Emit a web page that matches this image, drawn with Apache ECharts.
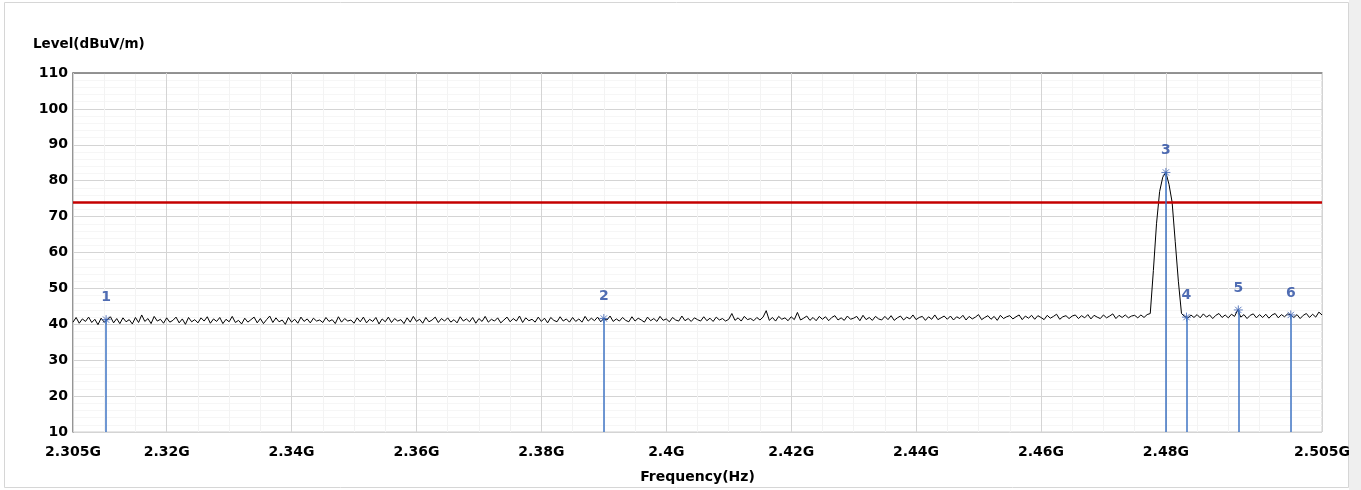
<!DOCTYPE html>
<html>
<head>
<meta charset="utf-8">
<script src="https://cdn.jsdelivr.net/npm/echarts@6/dist/echarts.min.js"></script>
<style>
    html, body { margin: 0; padding: 0; background: #fff; }
    #chart { width: 1361px; height: 490px; }
</style>
</head>
<body>
<div id="chart"></div>
<script>
    // sweep: 2.305G .. 2.505G, 401 points
    const sweepStart = 2.305
    const sweepStep = 0.0005

    const levels = [
        40.6, 41.9, 40.3, 41.5, 40.8, 42.0, 40.5, 41.4, 39.9, 41.7, 40.6, 41.2, 42.1, 40.4, 41.6, 40.2, 41.8, 40.7, 41.3, 40.1,
        41.9, 40.5, 42.6, 40.8, 41.6, 40.2, 42.2, 40.9, 41.4, 40.3, 41.8, 40.6, 41.1, 42.0, 40.4, 41.5, 40.0, 41.9, 40.7, 41.3,
        40.4, 41.8, 40.9, 42.1, 40.3, 41.5, 40.8, 41.9, 40.2, 41.4, 40.7, 42.2, 40.5, 41.1, 40.1, 41.7, 40.6, 41.3, 42.0, 40.4,
        41.6, 40.2, 41.3, 42.3, 40.5, 41.8, 40.7, 41.2, 40.0, 41.9, 40.6, 41.4, 40.3, 42.0, 40.8, 41.5, 40.4, 41.7, 40.9, 41.2,
        40.5, 41.9, 40.8, 41.3, 40.2, 42.1, 40.6, 41.6, 40.9, 41.2, 40.3, 41.8, 40.7, 42.0, 40.4, 41.4, 40.8, 41.9, 40.1, 41.5,
        40.7, 42.0, 40.5, 41.6, 40.9, 41.3, 40.2, 41.8, 40.6, 42.2, 40.8, 41.4, 40.3, 41.9, 40.7, 41.2, 42.0, 40.5, 41.6, 40.9,
        41.8, 40.6, 41.3, 40.4, 42.1, 40.9, 41.5, 40.7, 41.9, 40.3, 41.6, 40.8, 42.2, 40.6, 41.4, 40.9, 41.8, 40.4, 41.2, 42.0,
        40.7, 41.6, 40.9, 42.3, 40.5, 41.8, 41.0, 41.4, 40.6, 42.0, 40.8, 41.7, 40.4, 41.9, 41.1, 40.7, 42.1, 40.9, 41.5, 40.6,
        41.9, 40.8, 41.5, 40.6, 42.2, 40.9, 41.7, 41.0, 42.0, 40.7, 41.6, 41.2, 42.3, 40.8, 41.5, 40.9, 41.9, 41.1, 40.7, 42.1,
        40.9, 41.7, 41.2, 40.6, 42.0, 41.0, 41.6, 40.8, 42.2, 41.1, 41.5, 40.7, 41.9, 41.2, 40.9, 42.3, 41.0, 41.6, 40.8, 41.8,
        41.3, 40.9, 42.1, 41.0, 41.7, 40.8, 42.0, 41.2, 41.6, 40.9, 41.4, 43.0, 41.1, 41.8, 40.9, 42.2, 41.3, 41.6, 41.0, 41.9,
        41.2, 42.0, 43.8, 41.1, 41.9, 40.9, 42.2, 41.4, 41.8, 41.0, 42.1, 41.3, 43.3, 41.2, 41.7, 42.3, 41.1, 41.9, 41.0, 42.2,
        41.4, 42.1, 41.0, 41.9, 42.4, 41.2, 41.8, 41.1, 42.3, 41.4, 41.7, 42.2, 41.0, 42.5, 41.3, 41.9, 41.1, 42.2, 41.5, 41.2,
        42.2, 41.3, 42.4, 41.1, 41.8, 42.3, 41.2, 42.0, 41.5, 42.6, 41.3, 41.9, 42.2, 41.1, 42.1, 41.4, 42.6, 41.3, 41.8, 42.3,
        41.4, 42.3, 41.2, 42.1, 41.6, 42.5, 41.2, 42.2, 41.5, 42.0, 42.7, 41.3, 41.9, 42.4, 41.4, 42.2, 41.1, 42.5, 41.6, 42.1,
        42.4, 41.5, 42.1, 42.6, 41.3, 42.3, 41.7, 42.5, 41.4, 42.4, 41.9, 41.3, 42.5, 41.7, 42.2, 42.8, 41.4, 42.1, 42.4, 41.6,
        42.3, 42.6, 41.6, 42.4, 41.8, 42.7, 41.5, 42.5, 42.0, 41.6, 42.6, 41.8, 42.3, 42.9, 41.6, 42.5, 41.9, 42.6, 41.8, 42.3,
        42.5, 41.8, 42.6, 41.9, 42.7, 43.0, 55.0, 68.0, 77.0, 81.0, 82.3, 79.0, 74.0, 63.0, 52.0, 43.0, 42.2, 41.7, 42.6, 41.9,
        42.7, 41.8, 42.9, 42.0, 42.6, 41.6, 42.5, 43.0, 41.9, 42.6, 41.8, 42.8, 42.2, 44.0, 42.0, 42.7, 41.6, 42.5, 42.9, 41.8,
        42.7, 41.9, 42.8, 41.7, 42.6, 43.0, 41.8, 42.7, 42.1, 42.9, 42.6, 41.9, 42.7, 41.6, 42.5, 43.0, 41.9, 42.8, 42.0, 43.4,
        42.6
    ]

    const limitLevel = 74

    const markerNames = ['1', '2', '3', '4', '5', '6']
    const markerFreqs = [2.3103, 2.39, 2.48, 2.4833, 2.4916, 2.5]
    const markerLevels = [41.3, 41.6, 82.3, 42.0, 44.0, 42.6]

    const freqTicks = [2.305, 2.32, 2.34, 2.36, 2.38, 2.4, 2.42, 2.44, 2.46, 2.48, 2.505]

    const font = 'DejaVu Sans, Arial, sans-serif'
    const markerBlue = '#2448a0'

    let chart = echarts.init(document.getElementById('chart'))

    let trace = levels.map((v, i) => [sweepStart + i * sweepStep, v])

    chart.setOption({
        animation: false,
        backgroundColor: '#fff',
        grid: { left: 73, right: 39, top: 73, bottom: 58, show: true, borderColor: '#cfcfcf', borderWidth: 1 },
        graphic: [
            { type: 'rect', shape: { x: 4.5, y: 2.5, width: 1344, height: 485 }, style: { fill: 'none', stroke: '#d6d6d6', lineWidth: 1 }, z: -1 },
            { type: 'rect', shape: { x: 1349, y: 0, width: 12, height: 490 }, style: { fill: '#efefef' }, z: -1 },
            { type: 'text', left: 33, top: 37, style: { text: 'Level(dBuV/m)', font: 'bold 13.5px ' + font, fill: '#000' } }
        ],
        xAxis: [
            {
                type: 'value', min: 2.305, max: 2.505, z: 2,
                name: 'Frequency(Hz)', nameLocation: 'middle', nameGap: 38,
                nameTextStyle: { fontFamily: font, fontWeight: 'bold', fontSize: 14, color: '#000' },
                axisLine: { show: false },
                axisTick: { show: false, customValues: freqTicks },
                axisLabel: { customValues: freqTicks, formatter: v => v + 'G', margin: 13, fontFamily: font, fontWeight: 'bold', fontSize: 14, color: '#000' },
                splitLine: { show: true, lineStyle: { color: '#d4d4d4', width: 1 } }
            },
            {
                type: 'value', min: 2.305, max: 2.505, interval: 0.005, position: 'top', z: 1,
                axisLine: { show: true, lineStyle: { color: '#7a7a7a', width: 1.5 } },
                axisTick: { show: false },
                axisLabel: { show: false },
                splitLine: { show: true, lineStyle: { color: '#f3f3f3', width: 1 } }
            }
        ],
        yAxis: {
            type: 'value', min: 10, max: 110, interval: 10,
            axisLine: { show: true, lineStyle: { color: '#7a7a7a', width: 1.5 } },
            axisTick: { show: false },
            minorTick: { show: false, splitNumber: 5 },
            minorSplitLine: { show: true, lineStyle: { color: '#f6f6f6' } },
            axisLabel: { margin: 5, fontFamily: font, fontWeight: 'bold', fontSize: 14, color: '#000' },
            splitLine: { show: true, lineStyle: { color: '#d4d4d4', width: 1 } }
        },
        series: [
            {
                name: 'trace', type: 'line', xAxisIndex: 0, data: trace,
                symbol: 'none', silent: true,
                lineStyle: { color: '#000', width: 1 },
                markLine: {
                    silent: true, symbol: 'none', label: { show: false },
                    lineStyle: { color: '#c40000', width: 2.5, type: 'solid' },
                    data: [{ yAxis: limitLevel }]
                },
                z: 3
            },
            {
                name: 'markers', type: 'scatter', xAxisIndex: 0,
                data: markerFreqs.map((f, i) => [f, markerLevels[i]]),
                symbol: 'path://M0,-5L0,5M-5,0L5,0M-3.5,-3.5L3.5,3.5M-3.5,3.5L3.5,-3.5',
                symbolSize: 9,
                itemStyle: { color: 'rgba(0,0,0,0)', borderColor: '#3a5fb0', borderWidth: 1 },
                label: {
                    show: true, position: 'top', distance: 10,
                    formatter: p => markerNames[p.dataIndex],
                    fontFamily: font, fontWeight: 'bold', fontSize: 14, color: markerBlue
                },
                markLine: {
                    silent: true, symbol: 'none', label: { show: false },
                    lineStyle: { color: '#3f74c4', width: 1.5, type: 'solid' },
                    data: markerFreqs.map((f, i) => [{ coord: [f, 10] }, { coord: [f, markerLevels[i]] }])
                },
                z: 4
            }
        ]
    })
</script>
</body>
</html>
